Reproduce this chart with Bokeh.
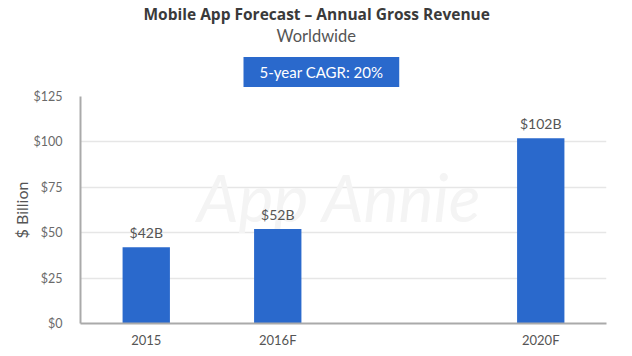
from bokeh.plotting import figure
from bokeh.models import FactorRange, Range1d, FixedTicker, NumeralTickFormatter, Label, ColumnDataSource, Title
from bokeh.core.properties import value
from bokeh.embed import file_html
from bokeh.resources import INLINE

# data
categories = ["2015", "2016F", " ", "2020F"]
bar_categories = ["2015", "2016F", "2020F"]
revenue = [42, 52, 102]
value_labels = ["$42B", "$52B", "$102B"]
y_ticks = [0, 25, 50, 75, 100, 125]

FONT = "Lato"
BLUE = "#2a69cc"

p = figure(width=632, height=356, x_range=FactorRange(factors=categories, range_padding=0),
           y_range=Range1d(0, 125), output_backend="svg", toolbar_location=None,
           min_border_left=80, min_border_right=26, min_border_top=0, min_border_bottom=33)
p.outline_line_color = None
p.background_fill_color = "white"
p.border_fill_color = "white"

# watermark
p.add_layout(Label(x=1.97, y=70, text="App Annie", text_font=FONT, text_font_size="66px",
                   text_font_style="italic", text_color="#f4f4f4", text_align="center",
                   text_baseline="middle", level="underlay"))

src = ColumnDataSource(dict(x=bar_categories, y=revenue, t=value_labels))
p.vbar(x="x", top="y", width=0.36, source=src, fill_color=BLUE, line_color=None)
p.text(x="x", y="y", text="t", source=src, text_align="center", text_baseline="bottom",
       y_offset=-6, text_font=value(FONT), text_font_size="14px", text_color="#555555")

# axes
p.yaxis.ticker = FixedTicker(ticks=y_ticks)
p.yaxis.formatter = NumeralTickFormatter(format="$0")
p.yaxis.axis_label = "$ Billion"
p.yaxis.axis_label_text_font = FONT
p.yaxis.axis_label_text_font_style = "normal"
p.yaxis.axis_label_text_font_size = "16px"
p.yaxis.axis_label_text_color = "#555555"
p.yaxis.axis_label_standoff = 0
p.yaxis.major_label_text_font = FONT
p.yaxis.major_label_text_font_size = "12.5px"
p.yaxis.major_label_text_color = "#6a6a6a"
p.yaxis.major_label_standoff = 12
p.yaxis.axis_line_color = "#aaaaaa"
p.yaxis.axis_line_width = 2
p.yaxis.major_tick_line_color = None
p.yaxis.minor_tick_line_color = None

p.xaxis.major_label_text_font = FONT
p.xaxis.major_label_text_font_size = "13px"
p.xaxis.major_label_text_color = "#555555"
p.xaxis.major_label_standoff = 2
p.xaxis.axis_line_color = "#aaaaaa"
p.xaxis.axis_line_width = 2
p.xaxis.major_tick_line_color = None
p.xaxis.minor_tick_line_color = None

p.xgrid.grid_line_color = None
p.ygrid.grid_line_color = "#e6e6e6"
p.ygrid.grid_line_width = 1.5

# titles (added nearest-first)
p.add_layout(Title(text="5-year CAGR: 20%", align="left", text_font=FONT, text_font_size="15px",
                   text_font_style="normal", text_color="white", background_fill_color=BLUE,
                   padding=(16, 16, 6, 6), standoff=19, offset=163), "above")
p.add_layout(Title(text="Worldwide", align="left", text_font=FONT, text_font_size="16.5px",
                   text_font_style="normal", text_color="#555555", standoff=-1, offset=196), "above")
p.add_layout(Title(text="Mobile App Forecast \u2013 Annual Gross Revenue", align="left",
                   text_font="Open Sans", text_font_size="15.5px", text_font_style="bold",
                   text_color="#3a3a3a", standoff=0, offset=63), "above")

open("out.html", "w").write(file_html(p, INLINE))
